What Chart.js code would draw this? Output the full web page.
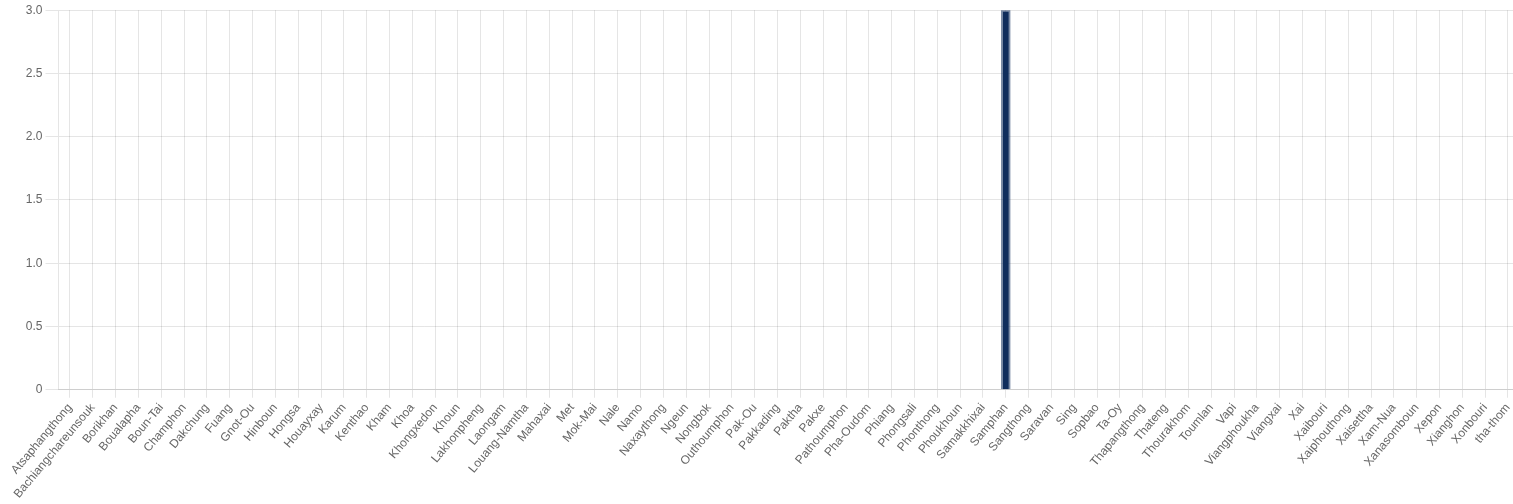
<!DOCTYPE html>
<html>
<head>
<meta charset="utf-8">
<script src="https://cdn.jsdelivr.net/npm/chart.js@4"></script>
<style>
  html, body { margin: 0; padding: 0; background: #fff; overflow: hidden; }
  #wrap { width: 1522px; height: 504px; }
</style>
</head>
<body>
<div id="wrap"><canvas id="districtChart"></canvas></div>
<script>
const districts = [
  "Atsaphangthong", "Bachiangchareunsouk", "Borikhan", "Boualapha", "Boun-Tai",
  "Champhon", "Dakchung", "Fuang", "Gnot-Ou", "Hinboun", "Hongsa", "Houayxay",
  "Karum", "Kenthao", "Kham", "Khoa", "Khongxedon", "Khoun", "Lakhonpheng",
  "Laongam", "Louang-Namtha", "Mahaxai", "Met", "Mok-Mai", "Nale", "Namo",
  "Naxaythong", "Ngeun", "Nongbok", "Outhoumphon", "Pak-Ou", "Pakkading",
  "Paktha", "Pakxe", "Pathoumphon", "Pha-Oudom", "Phiang", "Phongsali",
  "Phonthong", "Phoukhoun", "Samakkhixai", "Samphan", "Sangthong", "Saravan",
  "Sing", "Sopbao", "Ta-Oy", "Thapangthong", "Thateng", "Thourakhom", "Toumlan",
  "Vapi", "Viangphoukha", "Viangxai", "Xai", "Xaibouri", "Xaiphouthong",
  "Xaisettha", "Xam-Nua", "Xanasomboun", "Xepon", "Xianghon", "Xonbouri", "tha-thom"
];

const counts = [
  0, 0, 0, 0, 0, 0, 0, 0, 0, 0, 0, 0, 0, 0, 0, 0,
  0, 0, 0, 0, 0, 0, 0, 0, 0, 0, 0, 0, 0, 0, 0, 0,
  0, 0, 0, 0, 0, 0, 0, 0, 0, 3, 0, 0, 0, 0, 0, 0,
  0, 0, 0, 0, 0, 0, 0, 0, 0, 0, 0, 0, 0, 0, 0, 0
];

const BAR_FILL = "#0f2d5c";
const BAR_EDGE = "rgba(15, 45, 92, 0.55)";

const ctx = document.getElementById("districtChart").getContext("2d");

new Chart(ctx, {
  type: "bar",
  data: {
    labels: districts,
    datasets: [
      {
        label: "Count",
        data: counts,
        backgroundColor: BAR_FILL,
        borderColor: BAR_EDGE,
        borderWidth: 2,
        barThickness: 9,
      },
    ],
  },
  options: {
    responsive: true,
    maintainAspectRatio: false,
    animation: false,
    plugins: {
      legend: { display: false },
      tooltip: { enabled: false },
    },
    scales: {
      x: {
        grid: { offset: false },
        ticks: { color: "#666", autoSkip: false },
      },
      y: {
        beginAtZero: true,
        max: 3,
        grid: { tickLength: 13 },
        ticks: { color: "#666", stepSize: 0.5 },
        afterFit: (scale) => {
          scale.width = 58.5; // y axis box, pushes the plot area right
        },
      },
    },
  },
});
</script>
</body>
</html>
